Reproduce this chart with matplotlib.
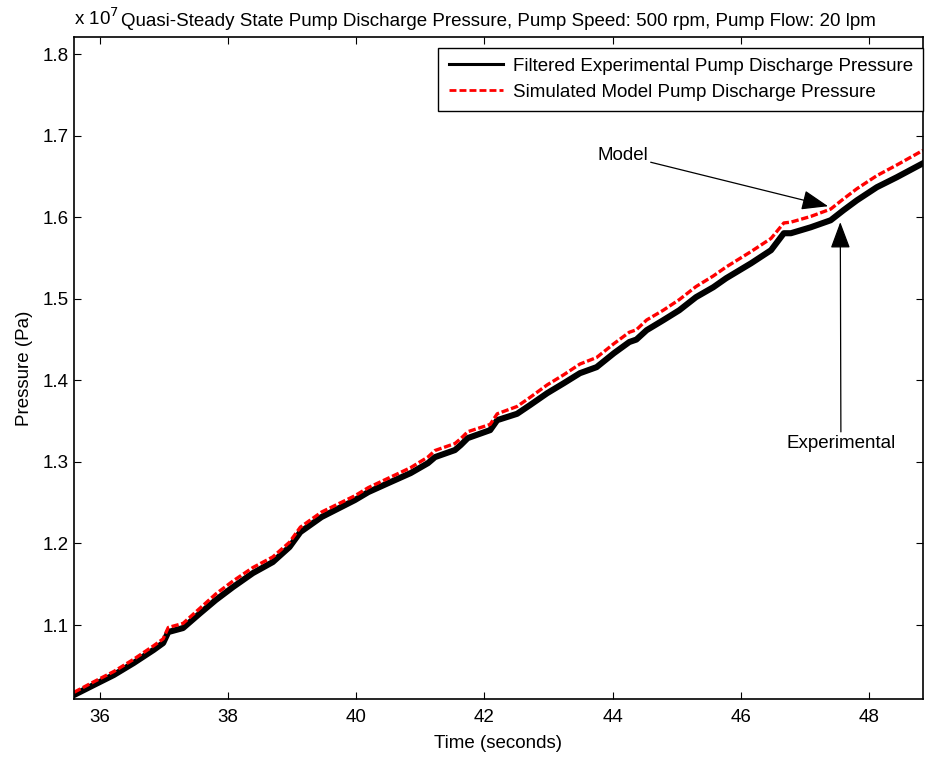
import matplotlib.pyplot as plt
from matplotlib.lines import Line2D

plt.rcParams['font.family'] = ['Liberation Sans', 'DejaVu Sans']

# time (s) and pressure (x 1e7 Pa)
t_exp = [35.60, 35.91, 36.22, 36.53, 36.84, 36.99, 37.07, 37.30, 37.57, 37.81,
         38.08, 38.39, 38.70, 38.96, 39.13, 39.46, 39.98, 40.19, 40.50, 40.85,
         41.12, 41.23, 41.54, 41.63, 41.74, 42.09, 42.20, 42.51, 42.71, 42.98,
         43.24, 43.49, 43.75, 44.02, 44.26, 44.37, 44.53, 44.79, 45.04, 45.30,
         45.57, 45.77, 46.16, 46.47, 46.67, 46.78, 47.09, 47.40, 47.60, 47.81,
         48.12, 48.43, 48.84]
p_exp = [1.0142, 1.0265, 1.0387, 1.0534, 1.0694, 1.0779, 1.0914, 1.0963, 1.1147, 1.1306,
         1.1466, 1.1637, 1.1772, 1.1956, 1.2140, 1.2324, 1.2532, 1.2630, 1.2740, 1.2863,
         1.2985, 1.3059, 1.3145, 1.3206, 1.3292, 1.3390, 1.3512, 1.3590, 1.3696, 1.3843,
         1.3966, 1.4088, 1.4162, 1.4333, 1.4470, 1.4500, 1.4615, 1.4738, 1.4860, 1.5020,
         1.5142, 1.5252, 1.5436, 1.5596, 1.5804, 1.5804, 1.5877, 1.5963, 1.6086, 1.6208,
         1.6368, 1.6490, 1.6662]

t_mod = [35.60, 35.91, 36.22, 36.53, 36.84, 36.99, 37.07, 37.30, 37.57, 37.81,
         38.08, 38.39, 38.70, 38.96, 39.13, 39.46, 39.98, 40.19, 40.50, 40.85,
         41.12, 41.23, 41.54, 41.63, 41.74, 42.09, 42.20, 42.51, 42.71, 42.98,
         43.24, 43.49, 43.75, 44.02, 44.26, 44.37, 44.53, 44.79, 45.04, 45.30,
         45.57, 45.77, 46.16, 46.47, 46.67, 46.78, 47.09, 47.40, 47.60, 47.81,
         48.12, 48.43, 48.84]
p_mod = [1.0175, 1.0305, 1.0430, 1.0580, 1.0745, 1.0830, 1.0970, 1.1020, 1.1210, 1.1380,
         1.1540, 1.1705, 1.1835, 1.2015, 1.2200, 1.2385, 1.2585, 1.2685, 1.2800, 1.2930,
         1.3060, 1.3140, 1.3225, 1.3285, 1.3370, 1.3460, 1.3590, 1.3680, 1.3790, 1.3945,
         1.4070, 1.4200, 1.4280, 1.4450, 1.4590, 1.4620, 1.4740, 1.4860, 1.4990, 1.5150,
         1.5280, 1.5390, 1.5580, 1.5740, 1.5930, 1.5940, 1.6010, 1.6100, 1.6225, 1.6350,
         1.6510, 1.6640, 1.6820]

xticks = [36, 38, 40, 42, 44, 46, 48]
yticks = [1.1, 1.2, 1.3, 1.4, 1.5, 1.6, 1.7, 1.8]

fs = 13.5

fig = plt.figure(figsize=(9.25, 7.57), dpi=100)
ax = fig.add_axes([74 / 925, 58 / 757, 849 / 925, 662 / 757])

ax.plot(t_exp, p_exp, color='black', lw=4.4, solid_joinstyle='round')
ax.plot(t_mod, p_mod, color='red', lw=2.4, dashes=(2.2, 0.8))

ax.set_xlim(35.6, 48.84)
ax.set_ylim(1.0093, 1.821)
ax.set_xticks(xticks)
ax.set_yticks(yticks)
ax.set_xticklabels([str(v) for v in xticks])
ax.set_yticklabels(['%.1f' % v for v in yticks])
ax.tick_params(direction='in', top=True, right=True, length=5, labelsize=fs)
ax.tick_params(axis='x', pad=7)
ax.tick_params(axis='y', pad=4)
for s in ax.spines.values():
    s.set_linewidth(1.2)

ax.set_xlabel('Time (seconds)', fontsize=fs, labelpad=7)
ax.set_ylabel('Pressure (Pa)', fontsize=fs, labelpad=7)
ax.set_title('Quasi-Steady State Pump Discharge Pressure, Pump Speed: 500 rpm, Pump Flow: 20 lpm',
             fontsize=fs, pad=8)
ax.text(0.0, 1.012, r'x 10$^{7}$', transform=ax.transAxes, fontsize=fs,
        ha='left', va='bottom')

handles = [Line2D([], [], color='black', lw=2.2),
           Line2D([], [], color='red', lw=2.0, dashes=(2.5, 1.1))]
ax.legend(handles, ['Filtered Experimental Pump Discharge Pressure',
                    'Simulated Model Pump Discharge Pressure'],
          loc='upper right', bbox_to_anchor=(1.0, 0.984), borderaxespad=0,
          fontsize=fs, handlelength=2.9, handletextpad=0.5, labelspacing=0.46,
          borderpad=0.55, fancybox=False, edgecolor='black', framealpha=1)

arrow = dict(arrowstyle='-|>,head_length=0.75,head_width=0.28', color='black',
             lw=0.9, mutation_scale=22, shrinkA=0, shrinkB=0)
ax.annotate('Model', xy=(47.36, 1.6135), xytext=(44.55, 1.676),
            ha='right', va='center', fontsize=fs, arrowprops=arrow)
ax.annotate('Experimental', xy=(47.55, 1.594), xytext=(47.56, 1.323),
            ha='center', va='center', fontsize=fs, arrowprops=arrow)

plt.savefig('out.png', dpi=100)
